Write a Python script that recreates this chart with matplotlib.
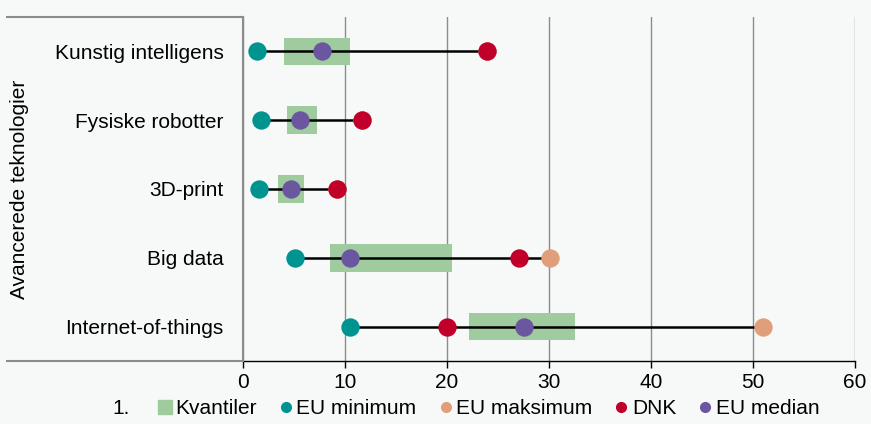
import matplotlib.pyplot as plt
from matplotlib.lines import Line2D

plt.rcParams['font.family'] = ['Liberation Sans', 'DejaVu Sans']

# Data
categories = ['Kunstig intelligens', 'Fysiske robotter', '3D-print', 'Big data', 'Internet-of-things']
eu_min = [1.4, 1.8, 1.6, 5.1, 10.5]
eu_max = [23.9, 11.7, 9.2, 30.1, 51.0]
dnk = [23.9, 11.7, 9.2, 27.1, 20.0]
eu_median = [7.7, 5.6, 4.7, 10.5, 27.5]
q_low = [4.0, 4.3, 3.4, 8.5, 22.2]
q_high = [10.5, 7.3, 6.0, 20.5, 32.5]
xticks = [0, 10, 20, 30, 40, 50, 60]

c_green = '#9fcb9f'
c_teal = '#009491'
c_salmon = '#e09f7a'
c_red = '#c0002a'
c_purple = '#6b56a0'
bg = '#f7f9f9'
fs = 15

fig = plt.figure(figsize=(8.71, 4.24), dpi=100, facecolor=bg)
W, H = 871, 424
ax = fig.add_axes([243 / W, 1 - 361 / H, (855 - 243) / W, (361 - 17) / H])
ax.set_facecolor(bg)

ypos = list(range(len(categories)))[::-1]

# Kvantiler boxes
ax.barh(ypos, [h - l for l, h in zip(q_low, q_high)], left=q_low, height=0.4,
        color=c_green, zorder=2)
# range line
for y, lo, hi in zip(ypos, eu_min, eu_max):
    ax.plot([lo, hi], [y, y], color='black', lw=1.8, zorder=3)

ms = 175
ax.scatter(eu_max, ypos, s=ms, color=c_salmon, zorder=4, linewidths=0)
ax.scatter(dnk, ypos, s=ms, color=c_red, zorder=5, linewidths=0)
ax.scatter(eu_min, ypos, s=ms, color=c_teal, zorder=5, linewidths=0)
ax.scatter(eu_median, ypos, s=ms, color=c_purple, zorder=6, linewidths=0)

ax.set_xlim(0, 60)
ax.set_ylim(-0.5, len(categories) - 0.5)
ax.set_xticks(xticks)
ax.set_xticklabels([str(t) for t in xticks], fontsize=fs)
ax.set_yticks(ypos)
ax.set_yticklabels(categories, fontsize=fs)
ax.tick_params(axis='y', length=0, pad=14)
ax.tick_params(axis='x', length=5, width=1, color='black', pad=4)

ax.grid(axis='x', color='#8c8c8c', lw=1, zorder=0)
for s in ['top', 'right']:
    ax.spines[s].set_visible(False)
ax.spines['left'].set_color('#8c8c8c')
ax.spines['left'].set_linewidth(1.5)
ax.spines['bottom'].set_color('black')
ax.spines['bottom'].set_linewidth(1)

# left frame lines
fig.add_artist(Line2D([7 / W, 243 / W], [1 - 17 / H, 1 - 17 / H], color='#8c8c8c', lw=1.5))
fig.add_artist(Line2D([7 / W, 243 / W], [1 - 361 / H, 1 - 361 / H], color='#8c8c8c', lw=1.5))

fig.text(20 / W, 1 - 189 / H, 'Avancerede teknologier', rotation=90, fontsize=fs,
         ha='center', va='center')

# legend
handles = [
    Line2D([], [], marker='s', ls='', color=c_green, markersize=10),
    Line2D([], [], marker='o', ls='', color=c_teal, markersize=7),
    Line2D([], [], marker='o', ls='', color=c_salmon, markersize=7),
    Line2D([], [], marker='o', ls='', color=c_red, markersize=7),
    Line2D([], [], marker='o', ls='', color=c_purple, markersize=7),
]
labels = ['Kvantiler', 'EU minimum', 'EU maksimum', 'DNK', 'EU median']
fig.legend(handles, labels, loc='center', bbox_to_anchor=(488 / W, 1 - 409 / H), ncol=5,
           frameon=False, fontsize=fs, handlelength=0.8, handletextpad=0.1,
           columnspacing=1.0, borderpad=0)
fig.text(112 / W, 1 - 409 / H, '1.', fontsize=fs, ha='left', va='center')

fig.savefig('out.png', dpi=100, facecolor=bg)
